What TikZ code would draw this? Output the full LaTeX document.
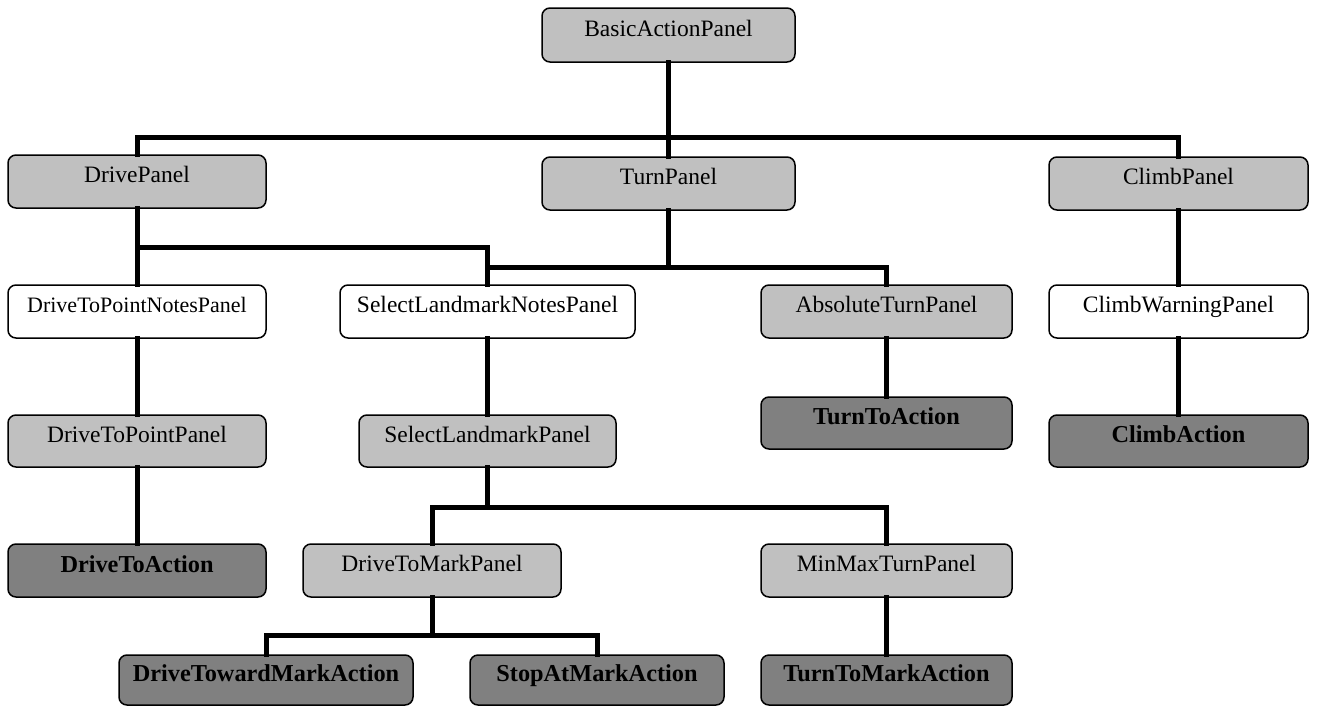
\documentclass[tikz,border=0pt]{standalone}
\usepackage{fontspec}
\setmainfont{Liberation Serif}
\definecolor{lightbox}{HTML}{C0C0C0}
\definecolor{darkbox}{HTML}{808080}
\begin{document}
\begin{tikzpicture}[x=1pt,y=-1pt,
  panel/.style={draw=black, line width=1.5pt, rounded corners=8pt, inner sep=0pt,
    minimum height=53pt, text height=0.62em, text depth=0.38em,
    font=\fontsize{23.5}{28}\selectfont},
  lightpanel/.style={panel, fill=lightbox},
  whitepanel/.style={panel, fill=white},
  actionpanel/.style={panel, fill=darkbox, font=\fontsize{24.3}{28}\selectfont\bfseries,
    text height=0.66em, text depth=0.36em},
  conn/.style={line width=5pt, line join=miter, line cap=rect}]
\useasboundingbox (0,0) rectangle (1317,707);
% row 1
\node[lightpanel, minimum width=253pt, minimum height=54pt] (bap) at (668.5,35) {BasicActionPanel};
% row 2
\node[lightpanel, minimum width=258pt] (dp) at (137,181.5) {DrivePanel};
\node[lightpanel, minimum width=253pt] (tp) at (668.5,183.5) {TurnPanel};
\node[lightpanel, minimum width=259pt] (cp) at (1178.5,183.5) {ClimbPanel};
% row 3
\node[whitepanel, minimum width=258pt, font=\fontsize{22}{26}\selectfont] (dtpn) at (137,311.5) {DriveToPointNotesPanel};
\node[whitepanel, minimum width=295pt] (sln) at (487.5,311.5) {SelectLandmarkNotesPanel};
\node[lightpanel, minimum width=251pt] (atp) at (886.5,311.5) {AbsoluteTurnPanel};
\node[whitepanel, minimum width=259pt] (cwp) at (1178.5,311.5) {ClimbWarningPanel};
% row 4
\node[lightpanel, minimum width=258pt, minimum height=52pt] (dtpp) at (137,441) {DriveToPointPanel};
\node[lightpanel, minimum width=257pt, minimum height=52pt] (slp) at (487.5,441) {SelectLandmarkPanel};
\node[actionpanel, minimum width=251pt, minimum height=52pt] (tta) at (886.5,423) {TurnToAction};
\node[actionpanel, minimum width=259pt, minimum height=52pt] (ca) at (1178.5,441) {ClimbAction};
% row 5
\node[actionpanel, minimum width=258pt] (dta) at (137,570.5) {DriveToAction};
\node[lightpanel, minimum width=258pt] (dtmp) at (432,570.5) {DriveToMarkPanel};
\node[lightpanel, minimum width=251pt] (mmtp) at (886.5,570.5) {MinMaxTurnPanel};
% row 6
\node[actionpanel, minimum width=294pt, minimum height=50pt] (dtwma) at (266,680) {DriveTowardMarkAction};
\node[actionpanel, minimum width=254pt, minimum height=50pt] (sama) at (597,680) {StopAtMarkAction};
\node[actionpanel, minimum width=251pt, minimum height=50pt] (ttma) at (886.5,680) {TurnToMarkAction};
% bus coordinates
\coordinate (b1) at (668.5,137);
\coordinate (b2) at (300,247);
\coordinate (b3) at (668.5,267);
\coordinate (b4) at (487.5,507);
\coordinate (b5) at (432,635);
% connectors
\draw[conn] (bap.south) -- (tp.north);
\draw[conn] (dp.north) |- (b1) -| (cp.north);
\draw[conn] (dp.south) -- (dtpn.north);
\draw[conn] (dtpn.north) |- (b2) -| (sln.north);
\draw[conn] (tp.south) -- (b3);
\draw[conn] (sln.north) |- (b3) -| (atp.north);
\draw[conn] (cp.south) -- (cwp.north);
\draw[conn] (dtpn.south) -- (dtpp.north);
\draw[conn] (dtpp.south) -- (dta.north);
\draw[conn] (sln.south) -- (slp.north);
\draw[conn] (atp.south) -- (tta.north);
\draw[conn] (cwp.south) -- (ca.north);
\draw[conn] (slp.south) -- (b4);
\draw[conn] (dtmp.north) |- (b4) -| (mmtp.north);
\draw[conn] (dtmp.south) -- (b5);
\draw[conn] (dtwma.north) |- (b5) -| (sama.north);
\draw[conn] (mmtp.south) -- (ttma.north);
\end{tikzpicture}
\end{document}
